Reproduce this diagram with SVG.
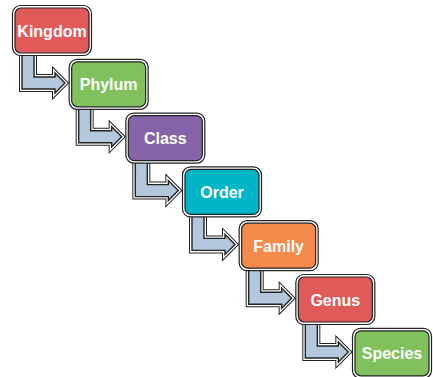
<svg xmlns="http://www.w3.org/2000/svg" xmlns:xlink="http://www.w3.org/1999/xlink" width="433" height="377" viewBox="0 0 433 377">
<style>
.o1{fill:none;stroke:#222;stroke-width:6;stroke-linejoin:miter;stroke-miterlimit:10}
.o2{fill:none;stroke:#fff;stroke-width:4;stroke-linejoin:miter;stroke-miterlimit:10}
.o3{fill:#b3c8dd;stroke:#222;stroke-width:1.4;stroke-linejoin:miter;stroke-miterlimit:10}
.ring{fill:#fff;stroke:#222;stroke-width:1.2}
.box{stroke:#222;stroke-width:1.2}
.lbl{fill:#fff;font-family:"Liberation Sans",Arial,sans-serif;font-weight:bold;font-size:16px;text-anchor:middle}
</style>
<defs>
<path id="ap" d="M7,-5 V36 H40 V40 L50,30 L40,20 V24 H19 V-5 Z"/>
<g id="arrow">
<use xlink:href="#ap" href="#ap" class="o1"/>
<use xlink:href="#ap" href="#ap" class="o2"/>
<use xlink:href="#ap" href="#ap" class="o3"/>
</g>
</defs>
<rect width="433" height="377" fill="#fff"/>
<g id="connectors">
<use xlink:href="#arrow" href="#arrow" transform="translate(15,53)"/>
<use xlink:href="#arrow" href="#arrow" transform="translate(71.67,106.8)"/>
<use xlink:href="#arrow" href="#arrow" transform="translate(128.33,160.6)"/>
<use xlink:href="#arrow" href="#arrow" transform="translate(185,214.4)"/>
<use xlink:href="#arrow" href="#arrow" transform="translate(241.67,268.2)"/>
<use xlink:href="#arrow" href="#arrow" transform="translate(298.33,322)"/>
</g>
<g id="kingdom">
<rect class="ring" x="12.5" y="5.5" width="79" height="50" rx="8"/>
<rect class="box" x="15" y="8" width="74" height="45" rx="6" fill="#e05a5a"/>
<text class="lbl" x="52" y="36.5">Kingdom</text>
</g>
<g id="phylum">
<rect class="ring" x="69.17" y="59.3" width="79" height="50" rx="8"/>
<rect class="box" x="71.67" y="61.8" width="74" height="45" rx="6" fill="#80c15e"/>
<text class="lbl" x="108.67" y="90.3">Phylum</text>
</g>
<g id="class">
<rect class="ring" x="125.83" y="113.1" width="79" height="50" rx="8"/>
<rect class="box" x="128.33" y="115.6" width="74" height="45" rx="6" fill="#8563a9"/>
<text class="lbl" x="165.33" y="144.1">Class</text>
</g>
<g id="order">
<rect class="ring" x="182.5" y="166.9" width="79" height="50" rx="8"/>
<rect class="box" x="185" y="169.4" width="74" height="45" rx="6" fill="#00b5c7"/>
<text class="lbl" x="222" y="197.9">Order</text>
</g>
<g id="family">
<rect class="ring" x="239.17" y="220.7" width="79" height="50" rx="8"/>
<rect class="box" x="241.67" y="223.2" width="74" height="45" rx="6" fill="#f48b4d"/>
<text class="lbl" x="278.67" y="251.7">Family</text>
</g>
<g id="genus">
<rect class="ring" x="295.83" y="274.5" width="79" height="50" rx="8"/>
<rect class="box" x="298.33" y="277" width="74" height="45" rx="6" fill="#e05a5a"/>
<text class="lbl" x="335.33" y="305.5">Genus</text>
</g>
<g id="species">
<rect class="ring" x="352.5" y="328.3" width="79" height="50" rx="8"/>
<rect class="box" x="355" y="330.8" width="74" height="45" rx="6" fill="#80c15e"/>
<text class="lbl" x="392" y="359.3">Species</text>
</g>
</svg>
